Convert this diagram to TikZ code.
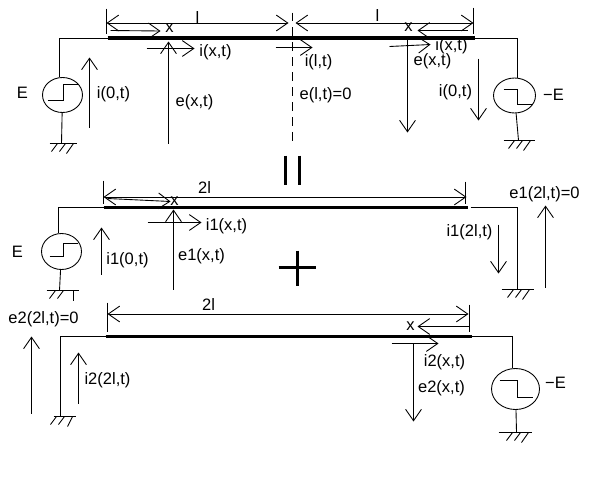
\documentclass[tikz,border=0pt]{standalone}
\usepackage{fontspec}
\setmainfont{Liberation Sans}
\usetikzlibrary{arrows.meta,shapes.geometric}
\tikzset{
    >={Straight Barb[length=6.5pt,width=9pt]},
    thin wire/.style={line width=0.5pt},
    txline/.style={line width=1.9pt},
    bigsign/.style={line width=2.2pt},
    source/.style={draw, ellipse, inner sep=0pt, line width=0.5pt},
    lbl/.style={font=\fontsize{9.4pt}{10pt}\selectfont, inner sep=0pt},
}
\begin{document}
\begin{tikzpicture}[x=0.02cm, y=-0.02cm, thin wire]
    \useasboundingbox (-0.5,-0.5) rectangle (599.5,496.5);

    % line ends
    \coordinate (topL) at (107,37.5);
    \coordinate (topR) at (474,37.5);
    \coordinate (midL) at (103,207);
    \coordinate (midR) at (467,207);
    \coordinate (botL) at (105,336);
    \coordinate (botR) at (471,336);
    \draw[txline] (topL) -- (topR);
    \draw[txline] (midL) -- (midR);
    \draw[txline] (botL) -- (botR);

    % sources
    \node (srcTopL) [source, minimum width=0.8cm, minimum height=0.7cm] at (62,94.5) {};
    \node (srcTopR) [source, minimum width=0.84cm, minimum height=0.7cm] at (514,95) {};
    \node (srcMid) [source, minimum width=0.8cm, minimum height=0.72cm] at (61,251) {};
    \node (srcBot) [source, minimum width=0.96cm, minimum height=0.82cm] at (515,388.5) {};
    \foreach \ax/\ay/\bx/\by/\cx in {47/100/63/84/77, 49/256/63/243/77} {
        \draw (\ax,\ay) -- (\bx,\ay) -- (\bx,\by) -- (\cx,\by);
    }
    \foreach \ax/\ay/\bx/\by/\cx in {503/89/517/104/531, 499/380/517/397/532} {
        \draw (\ax,\ay) -- (\bx,\ay) -- (\bx,\by) -- (\cx,\by);
    }

    % grounds
    \foreach \g/\gx/\gy/\gl/\gr/\hc/\hd in {
        gndTopL/61/143/49/76/12/7, gndTopR/518/140/503/534/12/7,
        gndMid/59/290/46/78/14/0, gndEnd/517/289/501/533/12/7,
        gndOpen/60/416/53/75/12/5, gndBot/516/432/498/531/12/7} {
        \coordinate (\g) at (\gx,\gy);
        \draw (\gl,\gy) -- (\gr,\gy);
        \draw ({\gx-4},\gy) -- ({\gx-10},{\gy+8});
        \draw ({\gx+4},\gy) -- ({\gx-2},{\gy+8});
        \draw ({\gx+\hc},\gy) -- ({\gx+\hc-\hd},{\gy+10});
    }

    % wires
    \draw (topL) -| (srcTopL.100);
    \draw (srcTopL) -- (gndTopL);
    \draw (topR) -| (srcTopR.80);
    \draw (srcTopR) -- (gndTopR);
    \draw (midL) -| (srcMid.100);
    \draw (srcMid) -- (gndMid);
    \coordinate (midGap) at (470,207);
    \draw (midGap) -| (gndEnd);
    \draw (botL) -| (gndOpen);
    \draw (botR) -| (srcBot.98);
    \draw (srcBot) -- (gndBot);

    % dashed middle of the top line
    \draw[dash pattern=on 5pt off 3.5pt] (292,12) -- (292,143);

    % ticks at the ends of the lengths
    \foreach \x/\ya/\yb in {106/8/33, 473/7/33, 103/180/203, 465/181/203, 107/302/331, 469/304/331} {
        \draw (\x,\ya) -- (\x,\yb);
    }

    % lengths, both ways
    \foreach \xa/\xb/\y in {106/288/22.5, 295/473/22.5, 103/466/196.5, 107/468/313.5} {
        \draw[<->] (\xa,\y) -- (\xb,\y);
    }

    % arrows
    \foreach \xa/\ya/\xb/\yb in {
        110/30/160/30.5, 467/30/417/30,
        89/127/89/57, 168/143/168/41, 146/48/194/48,
        275/47/312/47, 407/38/407/132, 389/46/430/44, 478/58/478/120,
        107/198/170/201, 101/274/101/227, 173/289/173/209, 147/222/201/222,
        498/224/498/273, 545/287/545/205,
        469/326/417/326, 78/403/78/352, 31/413/31/336,
        413/343/413/421, 391/343/438/343} {
        \draw[->] (\xa,\ya) -- (\xb,\yb);
    }

    % equals and plus
    \draw[bigsign] (285,155) -- (285,184);
    \draw[bigsign] (299,155) -- (299,184);
    \draw[bigsign] (278,267) -- (315,267);
    \draw[bigsign] (297,250) -- (297,285);

    % labels
    \node (lenTopL) [lbl] at (197,17) {l};
    \node (lenTopR) [lbl] at (377,15) {l};
    \node (xTopL) [lbl] at (169,28) {x};
    \node (xTopR) [lbl] at (408,27) {x};
    \node (eTopL) [lbl] at (22,92) {E};
    \node (eTopR) [lbl] at (553,94) {−E};
    \node (iZeroL) [lbl] at (113,94) {i(0,t)};
    \node (iXL) [lbl] at (215,52) {i(x,t)};
    \node (eXL) [lbl] at (194,102) {e(x,t)};
    \node (iMiddle) [lbl] at (318,62) {i(l,t)};
    \node (eMiddle) [lbl] at (325,95) {e(l,t)=0};
    \node (iXR) [lbl] at (451,46) {i(x,t)};
    \node (eXR) [lbl] at (432,61) {e(x,t)};
    \node (iZeroR) [lbl] at (455,92) {i(0,t)};

    \node (lenMid) [lbl] at (204,187) {2l};
    \node (xMid) [lbl] at (174,201) {x};
    \node (eMid) [lbl] at (17,251) {E};
    \node (iOneZero) [lbl] at (127,260) {i1(0,t)};
    \node (eOneX) [lbl] at (201,256) {e1(x,t)};
    \node (iOneX) [lbl] at (226,226) {i1(x,t)};
    \node (iOneEnd) [lbl] at (469,232) {i1(2l,t)};
    \node (eOneEnd) [lbl] at (544,194) {e1(2l,t)=0};

    \node (lenBot) [lbl] at (208,304) {2l};
    \node (xBot) [lbl] at (410,326) {x};
    \node (eBot) [lbl] at (555,382) {−E};
    \node (eTwoEnd) [lbl] at (43,319) {e2(2l,t)=0};
    \node (iTwoEnd) [lbl] at (107,380) {i2(2l,t)};
    \node (iTwoX) [lbl] at (444,362) {i2(x,t)};
    \node (eTwoX) [lbl] at (441,388) {e2(x,t)};
\end{tikzpicture}
\end{document}
